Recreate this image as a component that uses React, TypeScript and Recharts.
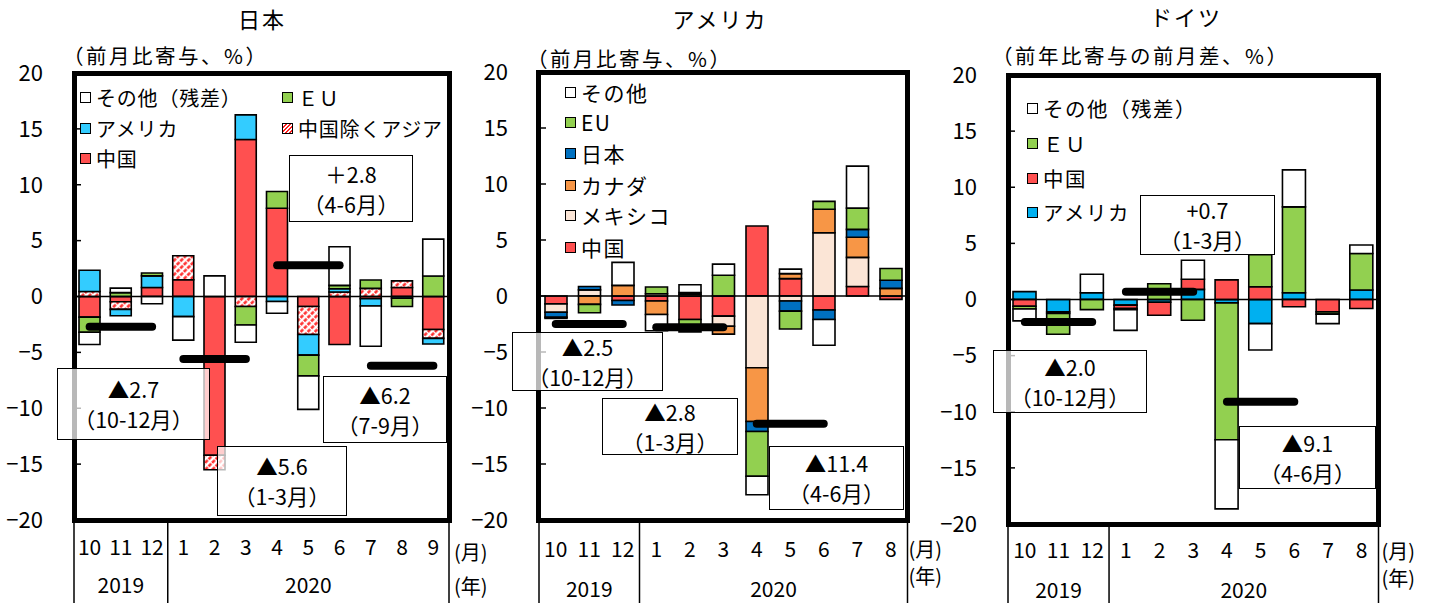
import type { ReactElement } from "react";
import { BarChart, Bar, XAxis, YAxis, ReferenceLine } from "recharts";

const NUM_FONT = '"Liberation Sans Narrow", "Noto Sans CJK JP", sans-serif';
const JA_FONT = '"Noto Sans CJK JP", sans-serif';
const PAGE_W = 1437;
const PAGE_H = 603;
const AXIS_W = 80;
const RIGHT_PAD = 60;

const monthsJp = ["10", "11", "12", "1", "2", "3", "4", "5", "6", "7", "8", "9"];
const monthsUsDe = ["10", "11", "12", "1", "2", "3", "4", "5", "6", "7", "8"];
const years = ["2019", "2020"];
const yTicks = [20, 15, 10, 5, 0, -5, -10, -15, -20];

// 日本（前月比寄与、%）
const jpChina = [-1.85, -0.47, 0.8, 1.5, -14.2, 14.05, 7.9, -0.9, -4.3, -0.2, 0.8, -2.95];
const jpAsiaExChina = [0.45, -0.68, 0, 2.15, -1.3, -0.9, 0, -2.5, 0.4, 0.73, 0.6, -0.8];
const jpUs = [1.9, -0.57, 1.05, -1.8, 0, 2.2, -0.45, -1.85, 0.3, -0.65, -0.15, -0.5];
const jpEu = [-1.35, 0.35, 0.25, 0, 0, -1.65, 1.5, -1.85, 0.3, 0.75, -0.75, 1.83];
const jpOther = [-1.1, 0.4, -0.65, -2.1, 1.85, -1.55, -1.05, -3.0, 3.45, -3.6, 0, 3.3];
const jpQuarters = [
  { from: "10", to: "12", value: -2.7, period: "10-12月" },
  { from: "1", to: "3", value: -5.6, period: "1-3月" },
  { from: "4", to: "6", value: 2.8, period: "4-6月" },
  { from: "7", to: "9", value: -6.2, period: "7-9月" },
];

// アメリカ（前月比寄与、%）
const usChina = [-0.7, 0, -0.4, -0.45, -2.1, -1.8, 6.25, 1.55, -1.25, 0.85, -0.3];
const usMexico = [-0.75, 0.55, 0, 0.2, 0, -0.9, -6.4, -0.45, 5.65, 2.6, 0];
const usCanada = [0, -0.75, 0.95, -1.2, 0.15, -0.7, -4.8, 0.45, 2.1, 1.8, 0.68];
const usJapan = [-0.45, 0.3, -0.4, 0, 0.15, 0, -0.9, -0.9, -0.85, 0.7, 0.72];
const usEu = [0, -0.75, 0, 0.6, -1.1, 1.85, -4.0, -1.6, 0.7, 1.9, 1.05];
const usOther = [-0.1, 0, 2.05, -1.45, 0.7, 1.0, -1.65, 0.4, -2.3, 3.75, 0];
const usQuarters = [
  { from: "10", to: "12", value: -2.5, period: "10-12月" },
  { from: "1", to: "3", value: -2.8, period: "1-3月" },
  { from: "4", to: "6", value: -11.4, period: "4-6月" },
];

// ドイツ（前年比寄与の前月差、%）
const deUs = [0.7, -1.1, 0.6, -0.5, -0.25, 0.9, -0.3, -2.15, 0.6, 0, 0.85];
const deChina = [-0.6, -0.15, 0, -0.3, -1.15, 0.9, 1.75, 1.13, -0.65, -1.1, -0.8];
const deEu = [-0.25, -1.85, -0.9, -0.1, 1.4, -1.85, -12.2, 2.85, 7.65, -0.2, 3.25];
const deOther = [-1.05, 0, 1.65, -1.85, 0, 1.7, -6.15, -2.35, 3.3, -0.85, 0.75];
const deQuarters = [
  { from: "10", to: "12", value: -2.0, period: "10-12月" },
  { from: "1", to: "3", value: 0.7, period: "1-3月" },
  { from: "4", to: "6", value: -9.1, period: "4-6月" },
];

type SeriesDef = { key: string; name: string; fill: string; values: number[] };
type Quarter = { from: string; to: string; value: number; period: string };
type Rect = { x: number; y: number; w: number; h: number };
type LegendPos = { key: string; x: number; y: number };
type PanelDef = {
  id: string;
  title: string;
  titleX: number;
  titleY: number;
  caption: string;
  captionX: number;
  captionY: number;
  plot: { x0: number; y0: number; x1: number; y1: number };
  months: string[];
  series: SeriesDef[];
  quarters: Quarter[];
  notes: Rect[];
  plus: string;
  barSize: number;
  legend: LegendPos[];
  legendFont: number;
  legendSpacing: number;
  monthY: number;
  yearY: number;
  unitY: [number, number];
  unitDX: number;
};

const WHITE = "#ffffff";
const GREEN = "#92d050";
const RED = "#ff5050";

const panels: PanelDef[] = [
  {
    id: "jp",
    title: "日本",
    titleX: 262,
    titleY: 18,
    caption: "（前月比寄与、%）",
    captionX: 63,
    captionY: 55,
    plot: { x0: 74, y0: 73, x1: 449, y1: 520 },
    months: monthsJp,
    series: [
      { key: "china", name: "中国", fill: RED, values: jpChina },
      { key: "asia", name: "中国除くアジア", fill: "url(#jp-hatch)", values: jpAsiaExChina },
      { key: "us", name: "アメリカ", fill: "#33ccff", values: jpUs },
      { key: "eu", name: "ＥＵ", fill: GREEN, values: jpEu },
      { key: "other", name: "その他（残差）", fill: WHITE, values: jpOther },
    ],
    quarters: jpQuarters,
    notes: [
      { x: 57, y: 368, w: 153, h: 72 },
      { x: 217, y: 446, w: 130, h: 70 },
      { x: 289, y: 155, w: 124, h: 67 },
      { x: 323, y: 376, w: 124, h: 67 },
    ],
    plus: "＋",
    barSize: 21,
    legend: [
      { key: "other", x: 80, y: 97 },
      { key: "eu", x: 282, y: 97 },
      { key: "us", x: 80, y: 128 },
      { key: "asia", x: 282, y: 128 },
      { key: "china", x: 80, y: 158 },
    ],
    legendFont: 20,
    legendSpacing: 0.8,
    monthY: 546,
    yearY: 584,
    unitY: [551, 585],
    unitDX: 5,
  },
  {
    id: "us",
    title: "アメリカ",
    titleX: 720,
    titleY: 18,
    caption: "（前月比寄与、%）",
    captionX: 527,
    captionY: 58,
    plot: { x0: 538.5, y0: 72, x1: 907, y1: 520 },
    months: monthsUsDe,
    series: [
      { key: "china", name: "中国", fill: RED, values: usChina },
      { key: "mexico", name: "メキシコ", fill: "#fbe5d6", values: usMexico },
      { key: "canada", name: "カナダ", fill: "#f79646", values: usCanada },
      { key: "japan", name: "日本", fill: "#0070c0", values: usJapan },
      { key: "eu", name: "EU", fill: GREEN, values: usEu },
      { key: "other", name: "その他", fill: WHITE, values: usOther },
    ],
    quarters: usQuarters,
    notes: [
      { x: 512, y: 332, w: 151, h: 59 },
      { x: 602, y: 398, w: 136, h: 57 },
      { x: 769, y: 446, w: 135, h: 64 },
    ],
    plus: "+",
    barSize: 22,
    legend: [
      { key: "other", x: 565, y: 92 },
      { key: "eu", x: 565, y: 122 },
      { key: "japan", x: 565, y: 153 },
      { key: "canada", x: 565, y: 185 },
      { key: "mexico", x: 565, y: 215 },
      { key: "china", x: 565, y: 247 },
    ],
    legendFont: 21,
    legendSpacing: 1.5,
    monthY: 548,
    yearY: 588,
    unitY: [548, 575],
    unitDX: 1,
  },
  {
    id: "de",
    title: "ドイツ",
    titleX: 1186,
    titleY: 16,
    caption: "（前年比寄与の前月差、%）",
    captionX: 992,
    captionY: 55,
    plot: { x0: 1008, y0: 75, x1: 1378.5, y1: 524 },
    months: monthsUsDe,
    series: [
      { key: "us", name: "アメリカ", fill: "#00b0f0", values: deUs },
      { key: "china", name: "中国", fill: RED, values: deChina },
      { key: "eu", name: "ＥＵ", fill: GREEN, values: deEu },
      { key: "other", name: "その他（残差）", fill: WHITE, values: deOther },
    ],
    quarters: deQuarters,
    notes: [
      { x: 993, y: 350, w: 154, h: 63 },
      { x: 1140, y: 195, w: 135, h: 60 },
      { x: 1239, y: 426, w: 137, h: 63 },
    ],
    plus: "+",
    barSize: 23,
    legend: [
      { key: "other", x: 1027, y: 108 },
      { key: "eu", x: 1027, y: 143 },
      { key: "china", x: 1027, y: 178 },
      { key: "us", x: 1027, y: 212 },
    ],
    legendFont: 20.5,
    legendSpacing: 1.5,
    monthY: 549,
    yearY: 589,
    unitY: [550, 577],
    unitDX: 3,
  },
];

const fmtTick = (v: number) => (v < 0 ? `−${-v}` : `${v}`);

// month labels, year labels and the group separators under the plot
function makeMonthTick(p: PanelDef) {
  const n = p.months.length;
  const half = (p.plot.x1 - p.plot.x0) / n / 2;
  const top = p.plot.y1;
  const firstNew = p.months.indexOf("1");
  const groups = [
    { label: years[0], start: 0, end: firstNew - 1 },
    { label: years[1], start: firstNew, end: n - 1 },
  ];
  const textStyle = { fontFamily: NUM_FONT, fontSize: 21, fill: "#000" };
  return (props: any) => {
    const { x, payload } = props;
    const i: number = typeof props.index === "number" ? props.index : payload.index;
    const parts: ReactElement[] = [];
    parts.push(
      <text key="m" x={x} y={p.monthY} textAnchor="middle" dominantBaseline="central" style={textStyle}>
        {payload.value}
      </text>
    );
    if (i === 0 || i === firstNew) {
      parts.push(<line key="ls" x1={x - half} x2={x - half} y1={top} y2={PAGE_H} stroke="#000" strokeWidth={1.5} />);
    }
    if (i === n - 1) {
      parts.push(<line key="le" x1={x + half} x2={x + half} y1={top} y2={PAGE_H} stroke="#000" strokeWidth={1.5} />);
      parts.push(
        <text key="um" x={x + half + p.unitDX} y={p.unitY[0]} dominantBaseline="central" style={{ ...textStyle, fontFamily: JA_FONT, fontSize: 20 }}>
          (月)
        </text>
      );
      parts.push(
        <text key="uy" x={x + half + p.unitDX} y={p.unitY[1]} dominantBaseline="central" style={{ ...textStyle, fontFamily: JA_FONT, fontSize: 20 }}>
          (年)
        </text>
      );
    }
    groups.forEach((g) => {
      const c = (g.start + g.end) / 2;
      if (i === Math.floor(c)) {
        parts.push(
          <text key={g.label} x={x + (c - i) * 2 * half} y={p.yearY} textAnchor="middle" dominantBaseline="central" style={textStyle}>
            {g.label}
          </text>
        );
      }
    });
    return <g>{parts}</g>;
  };
}

function PanelChart({ p }: { p: PanelDef }) {
  const { x0, y0, x1, y1 } = p.plot;
  const w = x1 - x0;
  const rows = p.months.map((m, i) => {
    const row: Record<string, string | number> = { month: m };
    p.series.forEach((s) => {
      row[s.key] = s.values[i];
    });
    return row;
  });
  return (
    <div style={{ position: "absolute", left: x0 - AXIS_W, top: 0 }}>
      <BarChart
        width={AXIS_W + w + RIGHT_PAD}
        height={PAGE_H}
        data={rows}
        stackOffset="sign"
        barSize={p.barSize}
        margin={{ top: y0, right: RIGHT_PAD, bottom: 0, left: 0 }}
      >
        <defs>
          <pattern id={`${p.id}-hatch`} width={5} height={5} patternUnits="userSpaceOnUse" patternTransform="rotate(45)">
            <rect width={5} height={5} fill="#fff" />
            <line x1={1.5} y1={0} x2={1.5} y2={5} stroke="#ff1f1f" strokeWidth={2.4} strokeDasharray="3 1.2" />
          </pattern>
        </defs>
        <XAxis
          dataKey="month"
          height={PAGE_H - y1}
          axisLine={false}
          tickLine={false}
          interval={0}
          tick={makeMonthTick(p)}
        />
        <YAxis
          width={AXIS_W}
          type="number"
          domain={[-20, 20]}
          ticks={yTicks}
          interval={0}
          axisLine={false}
          tickSize={-7}
          tickMargin={38}
          tickLine={{ stroke: "#000", strokeWidth: 1.5 }}
          tick={{ fill: "#000", fontSize: 22, fontFamily: NUM_FONT }}
          tickFormatter={fmtTick}
        />
        {p.series.map((s) => (
          <Bar
            key={s.key}
            dataKey={s.key}
            name={s.name}
            stackId="s"
            fill={s.fill}
            stroke="#000"
            strokeWidth={1.6}
            isAnimationActive={false}
          />
        ))}
        <ReferenceLine y={0} stroke="#000" strokeWidth={1.5} />
        {p.quarters.map((q) => (
          <ReferenceLine
            key={q.period}
            segment={[
              { x: q.from, y: q.value },
              { x: q.to, y: q.value },
            ]}
            stroke="#000"
            strokeWidth={8}
            strokeLinecap="round"
          />
        ))}
      </BarChart>
    </div>
  );
}

const swatch = (fill: string) =>
  fill.startsWith("url") ? "repeating-linear-gradient(135deg, #fff 0 1.5px, #ff1f1f 1.5px 3px)" : fill;

function PanelOverlay({ p }: { p: PanelDef }) {
  const { x0, y0, x1, y1 } = p.plot;
  return (
    <>
      <div
        style={{
          position: "absolute",
          left: x0 - 2.5,
          top: y0 - 2.5,
          width: x1 - x0 + 5,
          height: y1 - y0 + 5,
          border: "5px solid #000",
          boxSizing: "border-box",
        }}
      />
      {p.legend.map((l) => {
        const s = p.series.find((d) => d.key === l.key)!;
        return (
          <div
            key={l.key}
            style={{
              position: "absolute",
              left: l.x,
              top: l.y - 15,
              height: 30,
              display: "flex",
              alignItems: "center",
              fontFamily: JA_FONT,
              fontSize: p.legendFont,
              letterSpacing: p.legendSpacing,
              whiteSpace: "nowrap",
            }}
          >
            <span
              style={{
                display: "inline-block",
                width: 11,
                height: 11,
                border: "1.5px solid #000",
                boxSizing: "border-box",
                background: swatch(s.fill),
                marginRight: 5,
              }}
            />
            {s.name}
          </div>
        );
      })}
      {p.quarters.map((q, i) => {
        const r = p.notes[i];
        const head = q.value < 0 ? `▲${Math.abs(q.value).toFixed(1)}` : `${p.plus}${q.value.toFixed(1)}`;
        return (
          <div
            key={q.period}
            style={{
              position: "absolute",
              left: r.x,
              top: r.y,
              width: r.w,
              height: r.h,
              border: "1.5px solid #000",
              boxSizing: "border-box",
              background: "rgba(255,255,255,0.72)",
              display: "flex",
              flexDirection: "column",
              justifyContent: "center",
              alignItems: "center",
              fontFamily: NUM_FONT,
              fontSize: 21.5,
              lineHeight: "30px",
            }}
          >
            <div>{head}</div>
            <div>（{q.period}）</div>
          </div>
        );
      })}
      <div
        style={{
          position: "absolute",
          left: p.titleX - 100,
          width: 200,
          top: p.titleY - 15,
          lineHeight: "30px",
          textAlign: "center",
          fontFamily: JA_FONT,
          fontSize: 22,
          letterSpacing: 2,
        }}
      >
        {p.title}
      </div>
      <div
        style={{
          position: "absolute",
          left: p.captionX,
          top: p.captionY - 15,
          lineHeight: "30px",
          fontFamily: JA_FONT,
          fontSize: 20.5,
          letterSpacing: 2.5,
          whiteSpace: "nowrap",
        }}
      >
        {p.caption}
      </div>
    </>
  );
}

export default function App() {
  return (
    <div
      style={{
        position: "absolute",
        left: 0,
        top: 0,
        width: PAGE_W,
        height: PAGE_H,
        background: "#fff",
        overflow: "hidden",
        color: "#000",
      }}
    >
      {panels.map((p) => (
        <PanelChart key={p.id} p={p} />
      ))}
      {panels.map((p) => (
        <PanelOverlay key={p.id} p={p} />
      ))}
    </div>
  );
}
